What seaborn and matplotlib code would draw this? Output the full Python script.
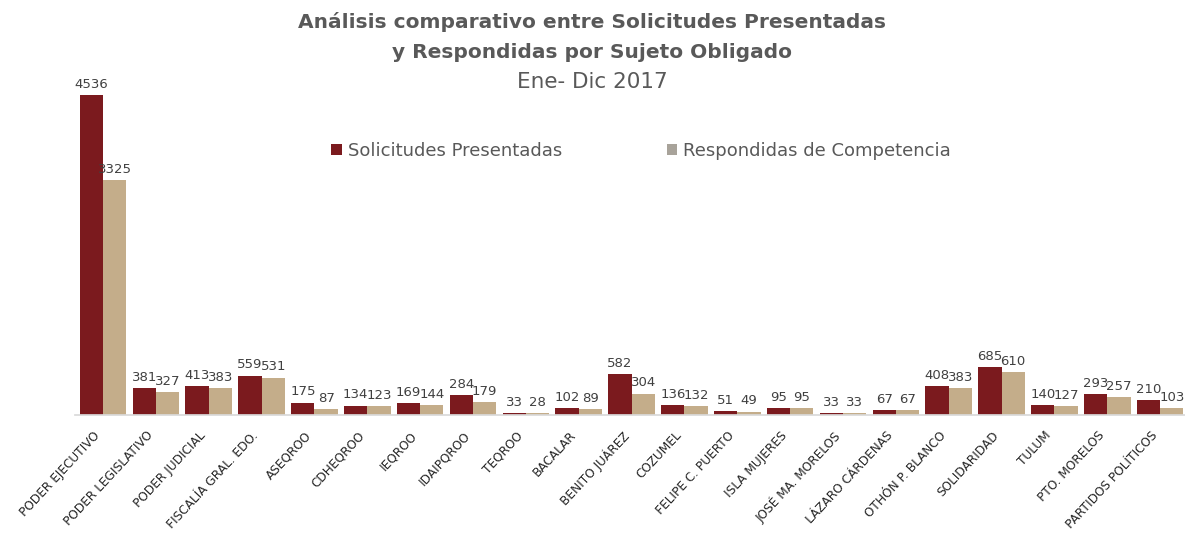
import matplotlib
matplotlib.use("Agg")
import matplotlib.pyplot as plt
import matplotlib.transforms as mtransforms
import seaborn as sns
import pandas as pd

sujetos = ["PODER EJECUTIVO", "PODER LEGISLATIVO", "PODER JUDICIAL", "FISCALÍA GRAL. EDO.",
           "ASEQROO", "CDHEQROO", "IEQROO", "IDAIPQROO", "TEQROO", "BACALAR",
           "BENITO JUÁREZ", "COZUMEL", "FELIPE C. PUERTO", "ISLA MUJERES",
           "JOSÉ MA. MORELOS", "LÁZARO CÁRDENAS", "OTHÓN P. BLANCO", "SOLIDARIDAD",
           "TULUM", "PTO. MORELOS", "PARTIDOS POLÍTICOS"]
presentadas = [4536, 381, 413, 559, 175, 134, 169, 284, 33, 102, 582, 136, 51, 95, 33, 67, 408, 685, 140, 293, 210]
respondidas = [3325, 327, 383, 531, 87, 123, 144, 179, 28, 89, 304, 132, 49, 95, 33, 67, 383, 610, 127, 257, 103]
series = ["Solicitudes Presentadas", "Respondidas de Competencia"]

df = pd.DataFrame({
    "sujeto": sujetos * 2,
    "valor": presentadas + respondidas,
    "serie": [series[0]] * len(sujetos) + [series[1]] * len(sujetos),
})

sns.set_theme(style="white")
plt.rcParams["font.family"] = ["DejaVu Sans"]

fig = plt.figure(figsize=(11.85, 5.48), dpi=100)
ax = fig.add_axes([75 / 1185, (548 - 415) / 548, 1110 / 1185, 352.7 / 548])

sns.barplot(data=df, x="sujeto", y="valor", hue="serie", order=sujetos,
            palette=["#7B1A1E", "#C4AD8A"], saturation=1, width=0.88, ax=ax,
            linewidth=0, legend=True)

for i, c in enumerate(ax.containers):
    ax.bar_label(c, padding=3, fontsize=9.5, color="#404040")

ax.set_ylim(0, 5000)
ax.set_xlim(-0.53, 20.47)
ax.set_xlabel("")
ax.set_ylabel("")
ax.set_yticks([])
for s in ["top", "right", "left"]:
    ax.spines[s].set_visible(False)
ax.spines["bottom"].set_color("#D9D9D9")
ax.tick_params(axis="x", length=0, pad=10)
offset = mtransforms.ScaledTranslation(-10 / 100, 0, fig.dpi_scale_trans)
for lbl in ax.get_xticklabels():
    lbl.set_rotation(47)
    lbl.set_ha("right")
    lbl.set_rotation_mode("anchor")
    lbl.set_fontsize(8.7)
    lbl.set_color("#262626")
    lbl.set_transform(lbl.get_transform() + offset)

handles, labels = ax.get_legend_handles_labels()
ax.get_legend().remove()
leg = fig.legend(handles, labels, loc="center", bbox_to_anchor=(641 / 1185, 0.7245),
                 ncol=2, frameon=False, fontsize=13, handlelength=0.6, handleheight=0.6,
                 handletextpad=0.3, columnspacing=5.8)
for t in leg.get_texts():
    t.set_color("#595959")
leg.legend_handles[1].set_color("#A8A39A")

fig.text(0.5, 1 - 22 / 548, "Análisis comparativo entre Solicitudes Presentadas",
         ha="center", va="center", fontsize=14.5, fontweight="bold", color="#595959")
fig.text(0.5, 1 - 52 / 548, "y Respondidas por Sujeto Obligado",
         ha="center", va="center", fontsize=14.5, fontweight="bold", color="#595959")
fig.text(0.5, 1 - 82 / 548, "Ene- Dic 2017",
         ha="center", va="center", fontsize=15.5, color="#595959")

fig.savefig("out.png", dpi=100)
